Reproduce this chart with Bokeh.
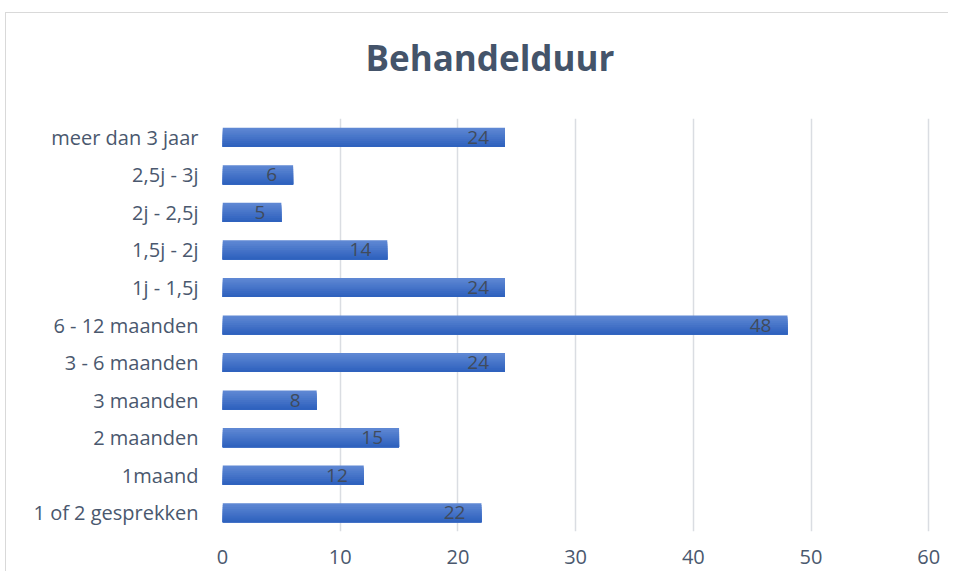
from bokeh.plotting import figure
from bokeh.models import ColumnDataSource, Title, FixedTicker
from bokeh.transform import dodge
from bokeh.core.properties import value
from bokeh.embed import file_html
from bokeh.resources import INLINE

# ---- data ----
categories = ["1 of 2 gesprekken", "1maand", "2 maanden", "3 maanden", "3 - 6 maanden",
              "6 - 12 maanden", "1j - 1,5j", "1,5j - 2j", "2j - 2,5j", "2,5j - 3j",
              "meer dan 3 jaar"]
counts = [22, 12, 15, 8, 24, 48, 24, 14, 5, 6, 24]
x_ticks = [0, 10, 20, 30, 40, 50, 60]
title_text = "Behandelduur"

FONT = "Open Sans"
TXT = "#4A586E"

src = ColumnDataSource(dict(cat=categories, val=counts, lab=[str(v) for v in counts]))

p = figure(width=943, height=559, y_range=categories, x_range=(0, 60.15),
           output_backend="svg", toolbar_location=None,
           min_border_left=216, min_border_right=19, min_border_top=105, min_border_bottom=41,
           margin=(12, 0, 0, 5))
p.styles = {"border-top": "1px solid #D9D9D9", "border-left": "1px solid #D9D9D9"}
p.y_range.range_padding = 0
p.outline_line_color = None
p.background_fill_color = "white"
p.border_fill_color = "white"

# invisible spacer between title and plot area
p.add_layout(Title(text=" ", text_font_size="1px", standoff=35, text_color="white"), "above")

p.title.text = title_text
p.title.align = "left"
p.title.offset = 143
p.title.standoff = 0
p.title.vertical_align = "bottom"
p.title.text_font = FONT
p.title.text_font_style = "bold"
p.title.text_font_size = "35px"
p.title.text_color = "#44546A"

# gradient bars: nested stripes, light top to dark bottom
n = 10
bar_h = 0.51
top_c = (0x5E, 0x87, 0xD3)
bot_c = (0x2F, 0x62, 0xBE)
for i in range(n):
    t = i / (n - 1)
    c = tuple(int(round(top_c[k] + (bot_c[k] - top_c[k]) * t)) for k in range(3))
    col = "#%02x%02x%02x" % c
    top = bar_h / 2 - i * bar_h / n
    bottom = -bar_h / 2
    p.hbar(y=dodge("cat", (top + bottom) / 2, range=p.y_range), right="val", left=0,
           height=top - bottom, source=src, fill_color=col, line_color=None)

p.text(x="val", y="cat", text="lab", source=src, text_align="right", text_baseline="middle",
       x_offset=-16, text_font=value(FONT), text_font_size="19px", text_color="#404B5C")

p.xaxis.ticker = FixedTicker(ticks=x_ticks)
p.xaxis.axis_line_color = None
p.xaxis.major_tick_line_color = None
p.xaxis.minor_tick_line_color = None
p.xaxis.major_label_standoff = 12
p.xaxis.major_label_text_font = FONT
p.xaxis.major_label_text_font_size = "20px"
p.xaxis.major_label_text_color = TXT

p.yaxis.axis_line_color = None
p.yaxis.major_tick_line_color = None
p.yaxis.minor_tick_line_color = None
p.yaxis.major_label_standoff = 18
p.yaxis.major_label_text_font = FONT
p.yaxis.major_label_text_font_size = "20px"
p.yaxis.major_label_text_color = TXT

p.ygrid.grid_line_color = None
p.xgrid.grid_line_color = "#DADDE2"
p.xgrid.grid_line_width = 1.5

open("out.html", "w").write(file_html(p, INLINE))
